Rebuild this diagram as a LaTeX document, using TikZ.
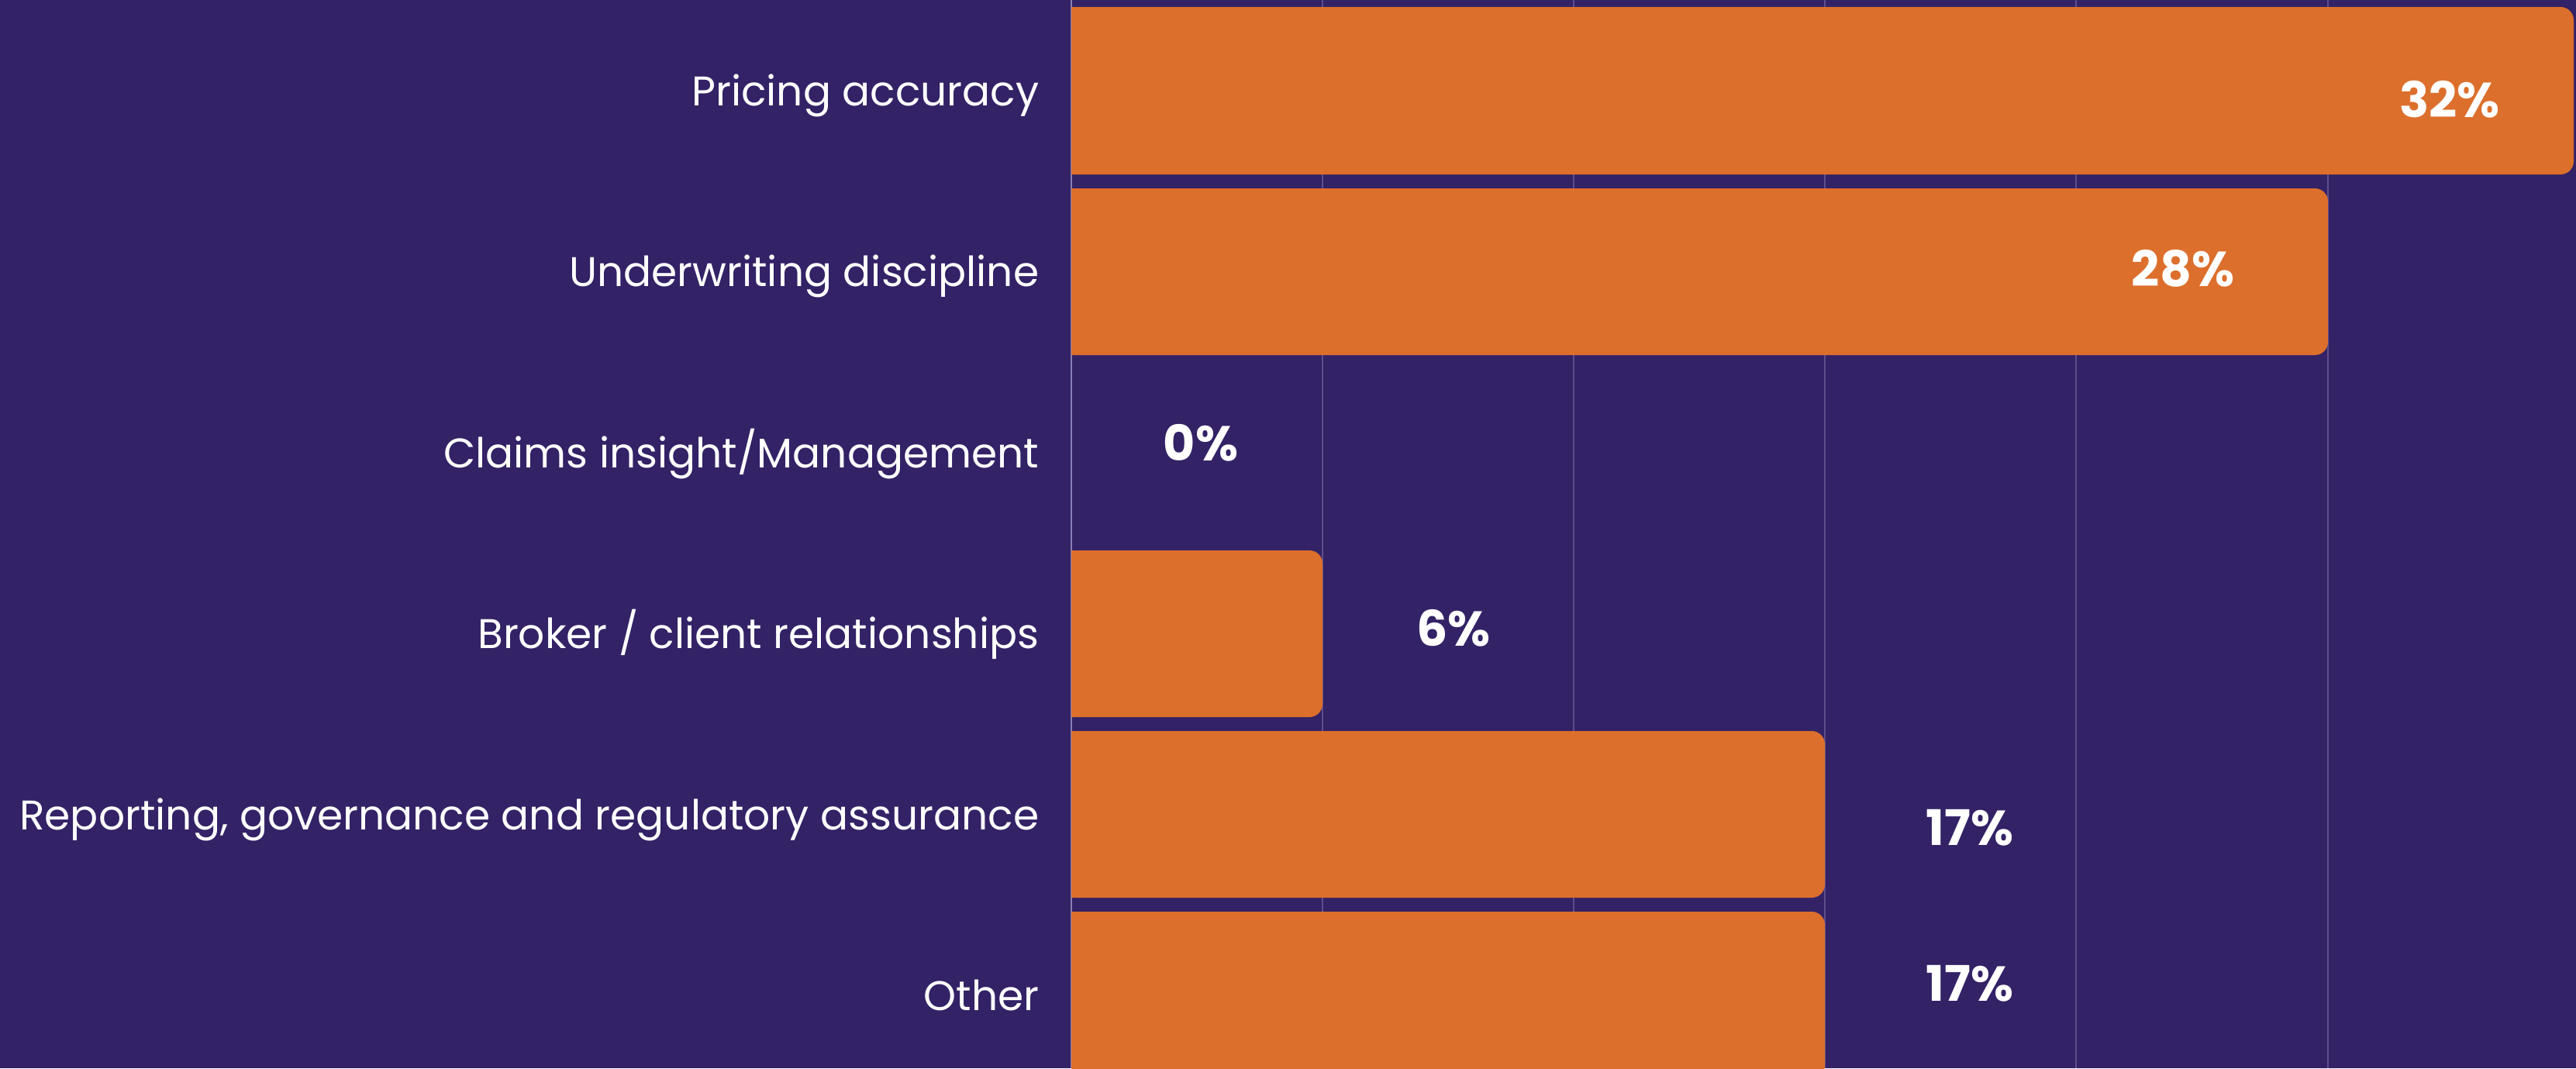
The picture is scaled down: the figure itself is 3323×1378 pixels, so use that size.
\documentclass[tikz,border=0pt]{standalone}
\usepackage{fontspec}
\setmainfont{Poppins}
\usepackage{tikz}
\usetikzlibrary{positioning}
\definecolor{bgpurple}{HTML}{332266}
\definecolor{barorange}{HTML}{DC6F2C}
\definecolor{gridpurple}{HTML}{5E4E8A}
\definecolor{axispurple}{HTML}{8A80B4}

\begin{document}
\begin{tikzpicture}[
    x=0.01cm, y=-0.01cm,
    every node/.style={inner sep=0pt, text=white},
    label/.style={anchor=base east, font=\fontsize{15.2}{18}\selectfont},
    value/.style={anchor=base, font=\fontsize{18}{21}\selectfont\bfseries},
    bar/.style={fill=barorange},
    grid/.style={draw=gridpurple, line width=0.6pt},
    axis/.style={draw=axispurple, line width=0.8pt}
]
\fill[bgpurple] (0,0) rectangle (3323,1378);
\useasboundingbox (0,0) rectangle (3323,1378);

% grid
\draw[grid] (1706,0) -- (1706,1378);
\draw[grid] (2030,0) -- (2030,1378);
\draw[grid] (2354,0) -- (2354,1378);
\draw[grid] (2678,0) -- (2678,1378);
\draw[grid] (3003,0) -- (3003,1378);
\draw[axis] (1382,0) -- (1382,1378);

% bars
\fill[bar] (1382,9) [rounded corners=4.8pt] -- (3320,9) -- (3320,225) [sharp corners] -- (1382,225) -- cycle;
\fill[bar] (1382,243) [rounded corners=4.8pt] -- (3003,243) -- (3003,458) [sharp corners] -- (1382,458) -- cycle;
\fill[bar] (1382,710) [rounded corners=4.8pt] -- (1706,710) -- (1706,925) [sharp corners] -- (1382,925) -- cycle;
\fill[bar] (1382,943) [rounded corners=4.8pt] -- (2354,943) -- (2354,1158) [sharp corners] -- (1382,1158) -- cycle;
\fill[bar] (1382,1176) [rounded corners=4.8pt] -- (2354,1176) -- (2354,1392) [sharp corners] -- (1382,1392) -- cycle;

% category labels
\node[label] (1) at (1341,136) {Pricing accuracy};
\node[label] (2) at (1341,369) {Underwriting discipline};
\node[label] (3) at (1341,603) {Claims insight/Management};
\node[label] (4) at (1341,836) {Broker / client relationships};
\node[label] (5) at (1341,1070) {Reporting, governance and regulatory assurance};
\node[label] (6) at (1341,1303) {Other};

% values
\node[value] (v1) at (3160,151) {32\%};
\node[value] (v2) at (2816,369) {28\%};
\node[value] (v3) at (1549,594) {0\%};
\node[value] (v4) at (1875,833) {6\%};
\node[value] (v5) at (2541,1090) {17\%};
\node[value] (v6) at (2541,1291) {17\%};
\end{tikzpicture}
\end{document}
